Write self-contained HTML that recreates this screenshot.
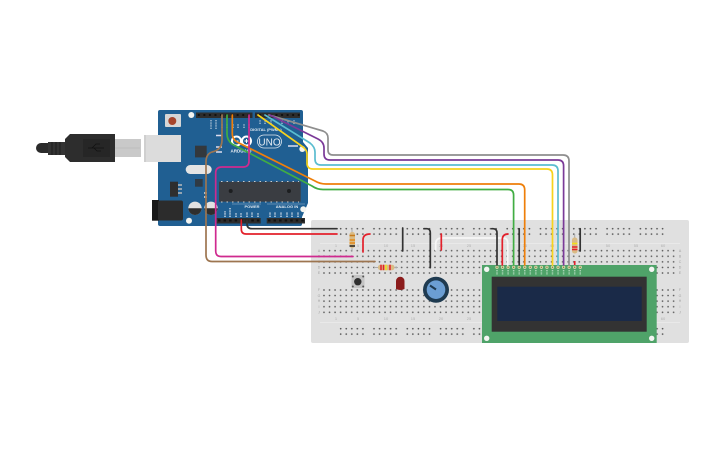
<!DOCTYPE html>
<html><head><meta charset="utf-8"><style>
html,body{margin:0;padding:0;background:#fff;width:725px;height:453px;overflow:hidden}
svg{display:block}
text{font-family:"Liberation Sans",sans-serif}
</style></head><body>
<svg width="725" height="453" viewBox="0 0 725 453" xmlns="http://www.w3.org/2000/svg">
<defs>
<pattern id="col" x="321.2" y="247.9" width="5.55" height="5.58" patternUnits="userSpaceOnUse"><circle cx="2.78" cy="2.79" r=".85" fill="#555"/></pattern>
<pattern id="col2" x="321.2" y="287.2" width="5.55" height="5.58" patternUnits="userSpaceOnUse"><circle cx="2.78" cy="2.79" r=".85" fill="#555"/></pattern>
<pattern id="rail" x="338" y="226" width="33.3" height="5.4" patternUnits="userSpaceOnUse"><g fill="#555"><circle cx="2.7" cy="2.7" r=".85"/><circle cx="8.25" cy="2.7" r=".85"/><circle cx="13.8" cy="2.7" r=".85"/><circle cx="19.35" cy="2.7" r=".85"/><circle cx="24.9" cy="2.7" r=".85"/></g></pattern>
<pattern id="rail2" x="338" y="326" width="33.3" height="5.4" patternUnits="userSpaceOnUse"><g fill="#555"><circle cx="2.7" cy="2.7" r=".85"/><circle cx="8.25" cy="2.7" r=".85"/><circle cx="13.8" cy="2.7" r=".85"/><circle cx="19.35" cy="2.7" r=".85"/><circle cx="24.9" cy="2.7" r=".85"/></g></pattern>
<pattern id="hdr" x="196" y="112" width="5.55" height="6" patternUnits="userSpaceOnUse"><rect width="5.55" height="6" fill="#2d2d2d"/><rect x="1.8" y="2" width="2" height="2" fill="#111"/></pattern>
</defs>

<!-- breadboard -->
<rect x="311" y="220" width="378" height="123" rx="2" fill="#e0e0e0"/>
<path d="M320 243.500H680M320 322.500H680" stroke="#e9e9e9" stroke-width="1"/>
<rect x="338" y="226" width="333" height="11" fill="url(#rail)"/>
<rect x="338" y="326" width="333" height="11" fill="url(#rail2)"/>
<rect x="321.200" y="247.900" width="355" height="27.900" fill="url(#col)"/>
<rect x="321.200" y="287.200" width="355" height="27.900" fill="url(#col2)"/>
<g font-size="4" fill="#b0b0b0" text-anchor="middle">
<text x="336" y="247">1</text><text x="358" y="247">5</text><text x="386" y="247">10</text><text x="413" y="247">15</text><text x="441" y="247">20</text><text x="469" y="247">25</text><text x="525" y="247">35</text><text x="552" y="247">40</text><text x="608" y="247">50</text><text x="636" y="247">55</text><text x="663" y="247">60</text>
<text x="336" y="320">1</text><text x="358" y="320">5</text><text x="386" y="320">10</text><text x="413" y="320">15</text><text x="441" y="320">20</text><text x="469" y="320">25</text><text x="663" y="320">60</text>
</g>
<g font-size="3.500" fill="#a0a0a0" text-anchor="middle">
<text x="319" y="252">A</text><text x="319" y="257.500">B</text><text x="319" y="263">C</text><text x="319" y="268.500">D</text><text x="319" y="274">E</text>
<text x="319" y="291">F</text><text x="319" y="297">G</text><text x="319" y="302">H</text><text x="319" y="308">I</text><text x="319" y="313.500">J</text>
<text x="680" y="252">A</text><text x="680" y="257.500">B</text><text x="680" y="263">C</text><text x="680" y="268.500">D</text><text x="680" y="274">E</text>
<text x="680" y="291">F</text><text x="680" y="297">G</text><text x="680" y="302">H</text><text x="680" y="308">I</text><text x="680" y="313.500">J</text>
</g>

<!-- USB cable -->
<path d="M48 143H41a5 5 0 0 0 0 10h7z" fill="#2b2b2b"/>
<path d="M48 142h17v13H48z" fill="#333"/>
<path d="M52 142v13M56 142v13M60 142v13" stroke="#1c1c1c" stroke-width="1"/>
<path d="M70 134H115V162H70L65 157V139z" fill="#2d2d2d"/>
<rect x="83" y="139" width="27" height="18" fill="#262626"/>
<path d="M88 148H104M92 148L96 144H100M94 148L97 151H101" stroke="#111" stroke-width=".8" fill="none"/>
<rect x="115" y="139" width="26" height="18" fill="#c9c9c9"/>
<path d="M115 148H140" stroke="#bdbdbd"/>

<!-- Arduino -->
<path d="M160 110H301Q303 110 303 112V142L308 148V203L302 217V224Q302 226 300 226H160Q158 226 158 224V112Q158 110 160 110z" fill="#205f92"/>
<rect x="144" y="135" width="37" height="27" fill="#dcdcdc"/>
<rect x="144" y="135" width="2" height="27" fill="#cfcfcf"/>
<rect x="165" y="114" width="16" height="13" rx="1" fill="#d6d6d6"/>
<circle cx="172.300" cy="121" r="4" fill="#a6452c"/>
<g fill="#f4f4f0"><circle cx="191.300" cy="115" r="3"/><circle cx="302.300" cy="149" r="3"/><circle cx="189" cy="220.700" r="3"/><circle cx="303.300" cy="209.300" r="3"/></g>
<rect x="196" y="112.500" width="56.500" height="5.500" fill="url(#hdr)"/>
<rect x="255" y="112.500" width="45" height="5.500" fill="url(#hdr)"/>
<rect x="216.700" y="218" width="44" height="5.500" fill="#2d2d2d"/>
<rect x="266.700" y="218" width="38.300" height="5.500" fill="#2d2d2d"/>
<path d="M218 220.500H260M268 220.500H304" stroke="#111" stroke-width="2" stroke-dasharray="2.500 3.050"/>
<rect x="219" y="181.700" width="81.700" height="20" fill="#3a3d42"/>
<path d="M221 181.500H299M221 202H299" stroke="#ccc" stroke-width="1" stroke-dasharray="1.500 4"/>
<circle cx="230.700" cy="191" r="2" fill="#1c1e20"/><circle cx="289" cy="191" r="2" fill="#1c1e20"/>
<rect x="185.700" y="165" width="26" height="9" rx="4.500" fill="#e4e4e4"/>
<rect x="195" y="145.700" width="11.700" height="11.700" fill="#33383d"/>
<rect x="195" y="179" width="7.700" height="7.700" fill="#2f3a44"/>
<rect x="170" y="181.700" width="8" height="15" fill="#2e2e2e"/>
<path d="M178 185h4M178 189h4M178 193h4" stroke="#bbb" stroke-width="1.500"/>
<rect x="152" y="200" width="7" height="20.700" fill="#191919"/>
<rect x="158" y="200.500" width="25" height="20" rx="2" fill="#2c2c2c"/>
<circle cx="195" cy="208.300" r="6.700" fill="#e2e2e2"/><path d="M188.300 208.300a6.700 6.700 0 0 0 13.400 0z" fill="#2e2e2e"/>
<circle cx="211" cy="208.300" r="6.700" fill="#e2e2e2"/><path d="M204.300 208.300a6.700 6.700 0 0 0 13.400 0z" fill="#2e2e2e"/>
<path d="M204 193h3M204 197h3" stroke="#ddd" stroke-width="1.500"/>
<path d="M216 135.500h6M216 147h6M216 152h6M288 146h10" stroke="#dde" stroke-width="1.500"/>
<g fill="none" stroke="#fff" stroke-width="2"><circle cx="236.500" cy="141" r="4.500"/><circle cx="246.500" cy="141" r="4.500"/></g>
<path d="M234.500 141h4M244.500 141h4M246.500 139v4" stroke="#fff" stroke-width="1"/>
<text x="241" y="152.500" font-size="4.500" font-weight="bold" fill="#e8eef4" text-anchor="middle">ARDUINO</text>
<rect x="257.500" y="135" width="24" height="13" rx="6.500" fill="none" stroke="#dfe8f0" stroke-width=".8"/>
<text x="269.500" y="145.500" font-size="10" fill="#e8eef4" text-anchor="middle">UNO</text>
<text x="266" y="131" font-size="4" font-weight="bold" fill="#dfe8f0" text-anchor="middle">DIGITAL (PWM~)</text>
<text x="252" y="208" font-size="4" font-weight="bold" fill="#dfe8f0" text-anchor="middle">POWER</text>
<text x="287" y="208" font-size="4" font-weight="bold" fill="#dfe8f0" text-anchor="middle">ANALOG IN</text>
<path d="M232 204H261M267 204H305" stroke="#9db8cf" stroke-width=".5" fill="none"/>
<path d="M225 217V211M230 217V208M236 217V213M241 217V213M247 217V212M252 217V212M258 217V213M270 217V212M275 217V212M281 217V212M287 217V212M292 217V212M298 217V212" stroke="#9fb9cf" stroke-width="2" stroke-dasharray="1 .6" fill="none"/>
<path d="M211 129V120M216 129V120M222 128V124M227 128V124M233 128V124M238 128V124M244 128V124M249 128V124M260 124V120M265 124V120M271 124V120M282 124V120M288 124V120M294 124V120" stroke="#9fb9cf" stroke-width="1.500" stroke-dasharray="1 .6" fill="none"/>

<!-- resistors -->
<path d="M352 228V251" stroke="#aaa" stroke-width="1"/>
<rect x="349.500" y="232" width="5.500" height="16" rx="2.500" fill="#d9bb85"/>
<path d="M349.500 235.500h5.500" stroke="#c97a1a" stroke-width="1.500"/><path d="M349.500 240h5.500" stroke="#e58a1a" stroke-width="1.500"/><path d="M349.500 243h5.500" stroke="#e58a1a" stroke-width="1.500"/><path d="M349.500 246h5.500" stroke="#222" stroke-width="1.500"/>
<path d="M374 267.500H398" stroke="#aaa" stroke-width="1"/>
<rect x="378" y="264.700" width="16.500" height="5.500" rx="2.500" fill="#d9bb85"/>
<path d="M381 264.700v5.500" stroke="#e3202b" stroke-width="1.500"/><path d="M383.500 264.700v5.500" stroke="#e3202b" stroke-width="1.500"/><path d="M386 264.700v5.500" stroke="#f2e01a" stroke-width="1.500"/><path d="M390 264.700v5.500" stroke="#e3202b" stroke-width="1.500"/>
<path d="M574.700 234V253" stroke="#aaa" stroke-width="1"/>
<rect x="572" y="237.500" width="5.500" height="16" rx="2.500" fill="#d9bb85"/>
<path d="M572 243.500h5.500" stroke="#f2e01a" stroke-width="1.500"/><path d="M572 247h5.500" stroke="#e3202b" stroke-width="1.500"/><path d="M572 249.500h5.500" stroke="#e3202b" stroke-width="1.500"/>
<path d="M574.700 261V266" stroke="#e3202b" stroke-width="1.700"/>

<!-- button, LED, pot -->
<rect x="351.500" y="275" width="13" height="13" rx="1" fill="#c4c4c4"/>
<g fill="#555"><circle cx="352.800" cy="276.500" r="1"/><circle cx="363.200" cy="276.500" r="1"/><circle cx="352.800" cy="286.500" r="1"/><circle cx="363.200" cy="286.500" r="1"/></g>
<circle cx="357.800" cy="281.700" r="3.700" fill="#2f2f2f"/>
<path d="M396 289V281a4.200 4.200 0 0 1 8.500 0V289q-4.200 2-8.500 0z" fill="#8b1c1c"/>
<circle cx="436" cy="289.700" r="13" fill="#1e3a50"/>
<circle cx="436" cy="289.700" r="9.300" fill="#6b9ed3"/>
<path d="M430 285.500L436 289.500" stroke="#1e3a50" stroke-width="2"/>

<!-- LCD -->
<rect x="482" y="265" width="174.700" height="78" fill="#4fa369"/>
<rect x="491.700" y="276.700" width="155" height="55" fill="#333"/>
<rect x="497.300" y="286.700" width="144.400" height="34.300" fill="#1a2a48"/>
<g fill="#f2f5f2"><circle cx="486.700" cy="269.300" r="2.700"/><circle cx="651.700" cy="269.300" r="2.700"/><circle cx="486.700" cy="338.300" r="2.700"/><circle cx="651.700" cy="338.300" r="2.700"/></g>
<g fill="#8a7a3a" stroke="#cfd6a8" stroke-width="1">
<circle cx="497" cy="267.300" r="1.200"/><circle cx="502.550" cy="267.300" r="1.200"/><circle cx="508.100" cy="267.300" r="1.200"/><circle cx="513.650" cy="267.300" r="1.200"/><circle cx="519.200" cy="267.300" r="1.200"/><circle cx="524.750" cy="267.300" r="1.200"/><circle cx="530.300" cy="267.300" r="1.200"/><circle cx="535.850" cy="267.300" r="1.200"/><circle cx="541.400" cy="267.300" r="1.200"/><circle cx="546.950" cy="267.300" r="1.200"/><circle cx="552.500" cy="267.300" r="1.200"/><circle cx="558.050" cy="267.300" r="1.200"/><circle cx="563.600" cy="267.300" r="1.200"/><circle cx="569.150" cy="267.300" r="1.200"/><circle cx="574.700" cy="267.300" r="1.200"/><circle cx="580.250" cy="267.300" r="1.200"/>
</g>
<path d="M497 270V275M502.550 270V275M508.100 270V275M513.650 270V275M519.200 270V275M524.750 270V275M530.300 270V275M535.850 270V275M541.400 270V275M546.950 270V275M552.500 270V275M558.050 270V275M563.600 270V275M569.150 270V275M574.700 270V275M580.250 270V275" stroke="#a9d3b5" stroke-width="1.500" stroke-dasharray="1 .6"/>

<!-- wires -->
<g fill="none" stroke-width="1.700" stroke-linecap="round" stroke-linejoin="round">
<path d="M363 252V240Q363 234 370 234" stroke="#e3202b"/>
<path d="M402.700 228V251" stroke="#333"/>
<path d="M424 228.700H427Q430.300 228.700 430.300 233V267.700" stroke="#333"/>
<path d="M435.700 250V244Q435.700 238 442 238H503Q507.700 238 507.700 243V265" stroke="#f6f6f6"/>
<path d="M441.300 234V250" stroke="#e3202b"/>
<path d="M491.700 228.700H493Q497 228.700 497 233V265" stroke="#333"/>
<path d="M502.300 265V240Q502.300 234 508 234" stroke="#e3202b"/>
<path d="M519.200 228.700V265" stroke="#333"/>
<path d="M580.200 228.700V251" stroke="#333"/>
<path d="M269 115L323 131Q328 133 328 138V150Q328 155 333 155H563Q569 155 569 161V265" stroke="#8e8e8e"/>
<path d="M270 115L318 139Q324 142 324 148V154Q324 160 330 160H558Q563.600 160 563.600 166V265" stroke="#7b3a98"/>
<path d="M265 115L310 143Q315 147 315 152V159Q315 165 321 165H552Q558 165 558 171V265" stroke="#5bbdd0"/>
<path d="M258 115L303 147Q307 150 307 154V163Q307 169 313 169H547Q552.500 169 552.500 175V265" stroke="#f7d31c"/>
<path d="M232.300 115V134Q232.300 139 237 142L315 181Q320 184 326 184H519Q524.700 184 524.700 190V265" stroke="#ee7f0a"/>
<path d="M227 115V134Q227 140 232 144L312 186Q317 189.500 323 189.500H508Q513.600 189.500 513.600 195V265" stroke="#41ad43"/>
<path d="M222 115V140Q222 150 212 152Q206 154 206 162V255Q206 261.500 212 261.500H375" stroke="#9d7550"/>
<path d="M249 115V161Q249 167 243 167H222Q215.700 167 215.700 173V251Q215.700 256.500 221 256.500H353" stroke="#cf2a8f"/>
<path d="M247 220V224Q247 228.700 252 228.700H337" stroke="#333"/>
<path d="M241.300 220V229Q241.300 234 246 234H337" stroke="#e3202b"/>
</g>
</svg>
</body></html>
